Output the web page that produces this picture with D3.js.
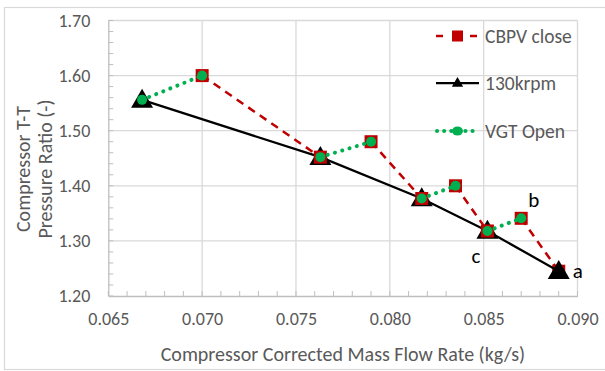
<!DOCTYPE html>
<html>
<head>
<meta charset="utf-8">
<script src="https://cdn.jsdelivr.net/npm/d3@7"></script>
<style>
  html, body { margin: 0; padding: 0; background: #fff; }
  svg { display: block; }
  text { font-family: Carlito, Lato, "Open Sans", sans-serif; }
</style>
</head>
<body>
<svg id="chart" width="605" height="371"></svg>
<script>
// Axis ticks
const xTicks = [0.065, 0.070, 0.075, 0.080, 0.085, 0.090];
const yTicks = [1.20, 1.30, 1.40, 1.50, 1.60, 1.70];

// 130krpm speed line
const speedFlow = [0.0668, 0.0763, 0.0817, 0.0852, 0.0890];
const speedPR   = [1.556, 1.452, 1.377, 1.318, 1.245];

// CBPV close steps (each pair is one segment)
const cbpvFlow = [[0.0700, 0.0763], [0.0790, 0.0817], [0.0835, 0.0852], [0.0870, 0.0890]];
const cbpvPR   = [[1.600, 1.452],   [1.480, 1.377],   [1.400, 1.318],   [1.341, 1.245]];

// VGT open steps (each pair is one segment)
const vgtFlow = [[0.0668, 0.0700], [0.0763, 0.0790], [0.0817, 0.0835], [0.0852, 0.0870]];
const vgtPR   = [[1.556, 1.600],   [1.452, 1.480],   [1.377, 1.400],   [1.318, 1.341]];

// Operating point tags on the speed line
const tagNames = ["a", "b", "c"];
const tagFlow  = [0.0890, 0.0870, 0.0852];
const tagPR    = [1.245, 1.341, 1.318];

const seriesNames = ["CBPV close", "130krpm", "VGT Open"];

const RED = "#C00000", GREEN = "#00B050", BLACK = "#000000";
const GRID = "#D9D9D9", AXIS = "#BFBFBF", TXT = "#595959";

const svg = d3.select("#chart");
const x = d3.scaleLinear().domain([0.065, 0.090]).range([108.3, 577.5]);
const y = d3.scaleLinear().domain([1.20, 1.70]).range([296, 20.5]);

// chart frame
svg.append("rect").attr("x", 4.5).attr("y", 7.5).attr("width", 640).attr("height", 362)
  .attr("fill", "#fff").attr("stroke", GRID).attr("stroke-width", 1.2);

// gridlines
const grid = svg.append("g");
grid.selectAll("line.h").data(yTicks.slice(1)).join("line")
  .attr("x1", x.range()[0]).attr("x2", x.range()[1])
  .attr("y1", d => y(d)).attr("y2", d => y(d))
  .attr("stroke", GRID).attr("stroke-width", 1.3);
grid.selectAll("line.v").data(xTicks.slice(1)).join("line")
  .attr("y1", y.range()[0]).attr("y2", y.range()[1])
  .attr("x1", d => x(d)).attr("x2", d => x(d))
  .attr("stroke", GRID).attr("stroke-width", 1.3);

// minor ticks, pointing into the plot
const xMinor = d3.range(0, 26).map(i => 0.065 + i * 0.001);
const yMinor = d3.range(0, 26).map(i => 1.20 + i * 0.02);
grid.selectAll("line.xm").data(xMinor).join("line")
  .attr("x1", d => x(d)).attr("x2", d => x(d))
  .attr("y1", y(1.20)).attr("y2", y(1.20) - 5)
  .attr("stroke", AXIS).attr("stroke-width", 1);
grid.selectAll("line.ym").data(yMinor).join("line")
  .attr("y1", d => y(d)).attr("y2", d => y(d))
  .attr("x1", x(0.065)).attr("x2", x(0.065) + 5)
  .attr("stroke", AXIS).attr("stroke-width", 1);

// axes
const xAxis = svg.append("g").attr("transform", `translate(0,${y(1.20)})`)
  .call(d3.axisBottom(x).tickValues(xTicks).tickFormat(d3.format(".3f")).tickSize(0).tickPadding(16));
const yAxis = svg.append("g").attr("transform", `translate(${x(0.065)},0)`)
  .call(d3.axisLeft(y).tickValues(yTicks).tickFormat(d3.format(".2f")).tickSize(0).tickPadding(18));
[xAxis, yAxis].forEach(g => {
  g.select(".domain").attr("stroke", AXIS).attr("stroke-width", 1.3);
  g.selectAll("text").attr("fill", TXT).style("font-size", "18px");
});
xAxis.selectAll("text").attr("dy", "0.71em");

// axis titles
svg.append("text").attr("x", (x.range()[0] + x.range()[1]) / 2).attr("y", 361)
  .attr("text-anchor", "middle").attr("fill", TXT).style("font-size", "20px")
  .text("Compressor Corrected Mass Flow Rate (kg/s)");
const yMid = 169;
[["Compressor T-T", 23], ["Pressure Ratio (-)", 45]].forEach(([t, cx]) => {
  svg.append("text").attr("transform", `translate(${cx},${yMid}) rotate(-90)`)
    .attr("text-anchor", "middle").attr("dominant-baseline", "central")
    .attr("fill", TXT).style("font-size", "20px").text(t);
});

const line = d3.line().x(d => x(d[0])).y(d => y(d[1]));
const pairs = (fs, ps) => fs.map((f, i) => f.map((v, j) => [v, ps[i][j]]));
const cbpvSegs = pairs(cbpvFlow, cbpvPR);
const vgtSegs = pairs(vgtFlow, vgtPR);
const speedPts = speedFlow.map((f, i) => [f, speedPR[i]]);

const tri = d3.symbol().type(d3.symbolTriangle);
const plot = svg.append("g");

function drawCbpv(segs) {
  const g = plot.append("g");
  g.selectAll("path").data(segs).join("path")
    .attr("d", line).attr("fill", "none").attr("stroke", RED)
    .attr("stroke-width", 2.5).attr("stroke-dasharray", "8,6");
  g.selectAll("rect").data(segs.flat()).join("rect")
    .attr("x", d => x(d[0]) - 6.5).attr("y", d => y(d[1]) - 6.5)
    .attr("width", 13).attr("height", 13).attr("fill", RED);
}

// last CBPV step sits beneath the speed line markers
drawCbpv(cbpvSegs.slice(3));

// 130krpm speed line
plot.append("path").datum(speedPts).attr("d", line).attr("fill", "none")
  .attr("stroke", BLACK).attr("stroke-width", 2.25);
plot.append("g").selectAll("path").data(speedPts).join("path")
  .attr("d", tri.size(210)()).attr("fill", BLACK)
  .attr("transform", d => `translate(${x(d[0])},${y(d[1]) + 1.5})`);

drawCbpv(cbpvSegs.slice(0, 3));

// VGT open steps
const vg = plot.append("g");
vg.selectAll("path").data(vgtSegs).join("path")
  .attr("d", line).attr("fill", "none").attr("stroke", GREEN)
  .attr("stroke-width", 4).attr("stroke-linecap", "round").attr("stroke-dasharray", "0.1,7.5");
vg.selectAll("circle").data(vgtSegs.flat()).join("circle")
  .attr("cx", d => x(d[0])).attr("cy", d => y(d[1])).attr("r", 5).attr("fill", GREEN);

// operating point tags
const tagOffsets = { a: [14, 7], b: [7, -11], c: [-16, 32] };
svg.append("g").selectAll("text").data(tagNames).join("text")
  .attr("x", (d, i) => x(tagFlow[i]) + tagOffsets[d][0])
  .attr("y", (d, i) => y(tagPR[i]) + tagOffsets[d][1])
  .attr("fill", BLACK).style("font-size", "21px").text(d => d);

// legend
const lg = svg.append("g");
const legY = [36, 83, 131];
const lx0 = 436, lx1 = 479, lm = 457.5;
lg.append("line").attr("x1", lx0).attr("x2", lx1).attr("y1", legY[0]).attr("y2", legY[0])
  .attr("stroke", RED).attr("stroke-width", 2.5).attr("stroke-dasharray", "7,10");
lg.append("rect").attr("x", lm - 5.5).attr("y", legY[0] - 5.5).attr("width", 11).attr("height", 11).attr("fill", RED);
lg.append("line").attr("x1", lx0).attr("x2", lx1).attr("y1", legY[1]).attr("y2", legY[1])
  .attr("stroke", BLACK).attr("stroke-width", 2.25);
lg.append("path").attr("d", tri.size(55)()).attr("fill", BLACK)
  .attr("transform", `translate(${lm},${legY[1] + 0.5})`);
lg.append("line").attr("x1", lx0 + 1).attr("x2", lx1).attr("y1", legY[2]).attr("y2", legY[2])
  .attr("stroke", GREEN).attr("stroke-width", 4).attr("stroke-linecap", "round").attr("stroke-dasharray", "0.1,7");
lg.append("ellipse").attr("cx", lm).attr("cy", legY[2]).attr("rx", 5.5).attr("ry", 4.5).attr("fill", GREEN);
lg.selectAll("text").data(seriesNames).join("text")
  .attr("x", 485).attr("y", (d, i) => legY[i]).attr("dominant-baseline", "central")
  .attr("fill", TXT).style("font-size", "19.5px").text(d => d);
</script>
</body>
</html>
